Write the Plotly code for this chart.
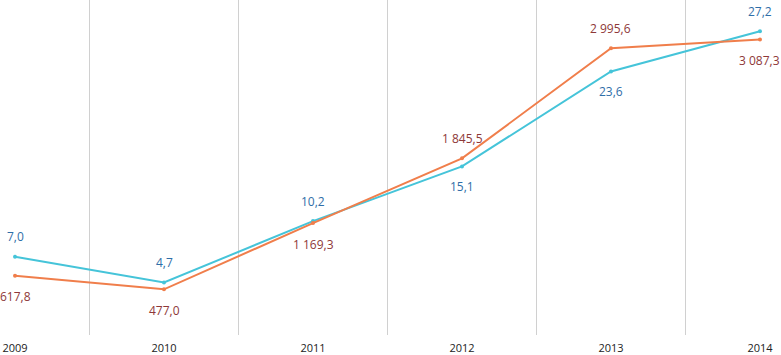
import plotly.graph_objects as go

years = ["2009", "2010", "2011", "2012", "2013", "2014"]
cyan_vals = [7.0, 4.7, 10.2, 15.1, 23.6, 27.2]
orange_vals = [617.8, 477.0, 1169.3, 1845.5, 2995.6, 3087.3]
cyan_pos = ["top", "top", "top", "bottom", "bottom", "top"]
orange_pos = ["bottom", "bottom", "bottom", "top", "top", "bottom"]

def fmt(v):
    s = f"{v:,.1f}".replace(",", " ").replace(".", ",")
    return s

x = list(range(len(years)))
cyan_line = "#45C4D9"
orange_line = "#F07E4B"
cyan_text = "#2F6EA8"
orange_text = "#8E3838"
font_family = "Open Sans, Liberation Sans, sans-serif"

fig = go.Figure()
fig.add_trace(go.Scatter(x=x, y=cyan_vals, mode="lines+markers", yaxis="y",
                         line=dict(color=cyan_line, width=2),
                         marker=dict(size=4, color=cyan_line), showlegend=False))
fig.add_trace(go.Scatter(x=x, y=orange_vals, mode="lines+markers", yaxis="y2",
                         line=dict(color=orange_line, width=2),
                         marker=dict(size=4, color=orange_line), showlegend=False))

annotations = []
for xi, v, p in zip(x, cyan_vals, cyan_pos):
    annotations.append(dict(x=xi, y=v, xref="x", yref="y", text=fmt(v), showarrow=False,
                            yshift=20 if p == "top" else -20,
                            font=dict(color=cyan_text, size=12, family=font_family)))
for xi, v, p in zip(x, orange_vals, orange_pos):
    annotations.append(dict(x=xi, y=v, xref="x", yref="y2", text=fmt(v), showarrow=False,
                            yshift=20 if p == "top" else -21,
                            font=dict(color=orange_text, size=12, family=font_family)))

fig.update_layout(
    width=781, height=355,
    margin=dict(l=0, r=0, t=0, b=20),
    paper_bgcolor="white", plot_bgcolor="white",
    xaxis=dict(range=[-0.1007, 5.141], tickmode="array", tickvals=x, ticktext=years,
               showgrid=False, zeroline=False, showline=False, ticks="",
               automargin=False, ticklabelstandoff=5,
               tickfont=dict(size=11, color="#222222", family=font_family),
               minor=dict(tickmode="linear", tick0=0.5, dtick=1, showgrid=True,
                          gridcolor="#D0D0D0", gridwidth=1)),
    yaxis=dict(range=[0, 30], visible=False, showgrid=False, zeroline=False),
    yaxis2=dict(range=[0, 3500], visible=False, overlaying="y", showgrid=False, zeroline=False),
    annotations=annotations,
)

fig.write_html("out.html", config={"displayModeBar": False},
               post_script="document.body.style.margin='0';document.body.style.overflow='hidden';")
